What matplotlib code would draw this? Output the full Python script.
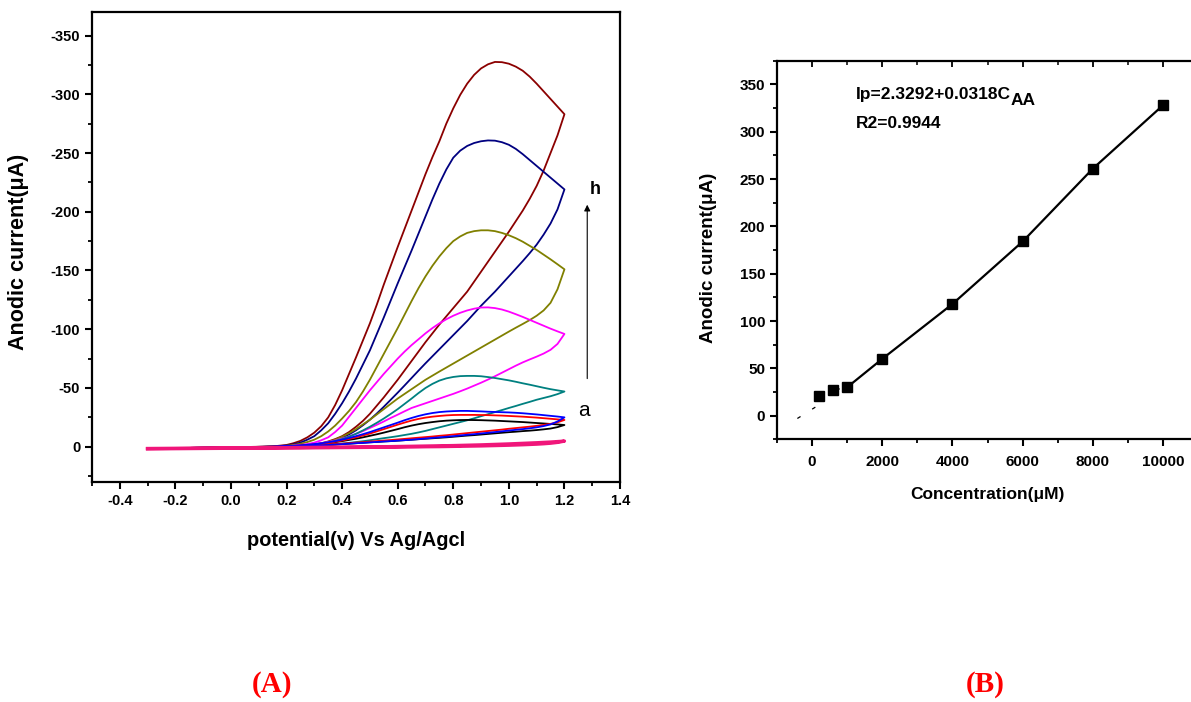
import matplotlib
matplotlib.use("Agg")
import matplotlib.pyplot as plt
from matplotlib.ticker import MultipleLocator

plt.rcParams['font.family'] = ['Liberation Sans', 'DejaVu Sans']
plt.rcParams['font.weight'] = 'bold'

# --- (A) cyclic voltammograms: shared potential grid (V) ---
pot_fwd = [-0.3, 0.0, 0.1, 0.15,
           0.2, 0.225, 0.25, 0.275, 0.3, 0.325, 0.35, 0.375, 0.4, 0.425,
           0.45, 0.475, 0.5, 0.525, 0.55, 0.575, 0.6, 0.625, 0.65, 0.675,
           0.7, 0.725, 0.75, 0.775, 0.8, 0.825, 0.85, 0.875, 0.9, 0.925,
           0.95, 0.975, 1.0, 1.025, 1.05, 1.075, 1.1, 1.125, 1.15, 1.175, 1.2]
pot_rev = pot_fwd[::-1]

# currents (uA); forward sweep then reverse sweep
h_fwd = [1.5, 0.5, 0.0, -0.3,
         -1.5, -3.0, -5, -8, -12, -17.5, -25, -35.5, -48, -62,
         -76, -90.5, -105, -121, -138, -154, -170, -185.5, -201, -216.5,
         -232, -246.5, -260, -275, -288, -299.5, -309, -316.5, -322, -325.5,
         -327.5, -327.3, -326, -323.5, -320, -315, -309, -302.5, -296, -289.5, -283]
h_rev = [-283, -265, -250, -235, -222, -211, -201, -192, -183, -174.5,
         -166, -157.5, -149, -140.5, -132, -125, -118, -111, -104, -96.5,
         -89, -81, -73, -65, -57, -49.5, -42, -35, -28, -22,
         -17, -12.5, -9, -6.5, -4.5, -3, -2, -1.5, -1, -0.7, -0.5,
         0.0, 0.3, 0.8, 1.5]
g_fwd = [1.5, 0.5, 0.1, -0.2,
         -1, -2, -3.5, -6, -9, -14, -20, -28, -37, -47,
         -58, -70, -82, -96, -110, -124.5, -139, -153, -167, -181.5,
         -196, -210.5, -224, -236, -246, -252, -256, -258.5, -260, -260.7,
         -260.5, -259.2, -257, -253.5, -249, -244, -239, -234, -229, -224, -219]
g_rev = [-219, -202, -190, -180.5, -172, -164.8, -158, -151.5, -145, -138.5,
         -132, -126, -120, -113.5, -107, -101, -95, -89, -83, -77,
         -71, -64.8, -58.5, -52.2, -46, -40, -34, -28.3, -23, -18.3,
         -14, -10.5, -7.5, -5.3, -3.5, -2.3, -1.5, -1.1, -0.8, -0.6, -0.4,
         0.0, 0.3, 0.8, 1.5]
f_fwd = [1.5, 0.5, 0.1, -0.2,
         -0.8, -1.5, -2.5, -4, -6, -9, -13, -18, -24, -30.5,
         -38, -47, -57, -68, -79, -90, -101, -112.5, -124, -135,
         -145, -154, -162, -169, -175, -179, -182, -183.5, -184.2, -184.2,
         -183.5, -182, -180, -177.5, -174.5, -171, -167.5, -163.5, -159.5, -155.3, -151]
f_rev = [-151, -134, -122.5, -116, -111.5, -107.8, -104.5, -101.3, -98, -94.6,
         -91.2, -87.8, -84.4, -81, -77.6, -74.2, -70.8, -67.4, -64, -60.5,
         -57, -53, -49, -45, -41, -36.5, -32, -27.5, -23, -19,
         -15, -11.5, -8.5, -6, -4, -2.8, -2, -1.4, -1, -0.7, -0.5,
         0.0, 0.3, 0.8, 1.5]
e_fwd = [1.5, 0.5, 0.1, -0.1,
         -0.5, -0.9, -1.5, -2.3, -3.5, -5.5, -8, -12.5, -18, -25.5,
         -33, -40.5, -48, -55, -62, -68.5, -75, -81, -86.5, -91.5,
         -96.5, -101, -105, -108.5, -111.5, -114, -116, -117.5, -118.5, -118.6,
         -118, -116.8, -115, -112.8, -110.5, -108, -105.5, -103, -100.5, -98.2, -96]
e_rev = [-96, -87.5, -82.5, -79.3, -76.7, -74.3, -71.8, -69, -66, -63,
         -60, -57.2, -54.5, -52, -49.5, -47.2, -45, -43, -41, -39,
         -37, -35, -33, -30.2, -27.3, -24.5, -21.5, -18.7, -16, -13.3,
         -11, -8.8, -7, -5.3, -4, -2.9, -2, -1.4, -1, -0.7, -0.5,
         0.0, 0.3, 0.8, 1.5]
d_fwd = [1.5, 0.5, 0.2, 0.0,
         -0.3, -0.5, -0.8, -1.1, -1.5, -2.4, -3.5, -4.9, -6.5, -8.6,
         -11, -13.9, -17, -20.4, -24, -27.9, -32, -36.5, -41, -45.7,
         -50, -53.5, -56.3, -58.2, -59.4, -60.1, -60.3, -60.3, -60, -59.3,
         -58.5, -57.5, -56.5, -55.3, -54, -52.8, -51.5, -50.2, -49, -48, -47]
d_rev = [-47, -44.8, -43, -41.5, -40, -38.2, -36.5, -34.7, -33, -31.2,
         -29.5, -27.7, -26, -24.2, -22.5, -21, -19.5, -18, -16.5, -15,
         -13.5, -12.2, -11, -10, -9, -8.1, -7.3, -6.4, -5.5, -4.7,
         -4, -3.3, -2.7, -2.1, -1.5, -1.1, -0.8, -0.5, -0.3, -0.1, 0,
         0.2, 0.4, 0.8, 1.5]
c_fwd = [1.5, 0.5, 0.2, 0.0,
         -0.5, -0.8, -1.2, -1.7, -2.3, -3, -3.8, -4.8, -6, -7.4,
         -9, -10.7, -12.5, -14.5, -16.5, -18.5, -20.5, -22.6, -24.5, -26.2,
         -27.6, -28.7, -29.5, -30, -30.3, -30.5, -30.5, -30.3, -30.1, -29.8,
         -29.6, -29.4, -29.2, -28.9, -28.5, -28, -27.5, -26.9, -26.3, -25.7, -25]
c_rev = [-25, -21.5, -19, -17.6, -16.5, -15.7, -15, -14.4, -13.8, -13.1,
         -12.5, -11.9, -11.3, -10.7, -10.2, -9.6, -9, -8.5, -8, -7.5,
         -7, -6.5, -6, -5.6, -5.2, -4.8, -4.5, -4.1, -3.7, -3.3,
         -3, -2.6, -2.2, -1.8, -1.5, -1.2, -1, -0.7, -0.5, -0.3, -0.2,
         0.1, 0.4, 0.8, 1.5]
b_fwd = [1.5, 0.5, 0.2, 0.0,
         -0.4, -0.7, -1, -1.5, -2, -2.6, -3.3, -4.2, -5.3, -6.6,
         -8, -9.6, -11.2, -13.1, -15, -16.9, -18.8, -20.6, -22.3, -23.7,
         -24.8, -25.6, -26.2, -26.7, -27, -27.1, -27.1, -27.1, -27, -26.9,
         -26.7, -26.5, -26.2, -25.9, -25.6, -25.2, -24.8, -24.3, -23.8, -23.3, -22.8]
b_rev = [-22.8, -20.8, -19.5, -18.6, -17.8, -17.1, -16.5, -15.9, -15.3, -14.6,
         -14, -13.4, -12.8, -12.2, -11.6, -11, -10.4, -9.8, -9.3, -8.7,
         -8.2, -7.7, -7.2, -6.7, -6.2, -5.7, -5.3, -4.8, -4.4, -3.9,
         -3.5, -3, -2.6, -2.2, -1.8, -1.4, -1.1, -0.8, -0.6, -0.4, -0.2,
         0.1, 0.4, 0.8, 1.5]
a_fwd = [1.5, 0.5, 0.2, 0.0,
         -0.4, -0.6, -0.9, -1.3, -1.8, -2.4, -3, -3.9, -4.8, -5.8,
         -6.8, -8, -9.3, -10.6, -12, -13.5, -15, -16.6, -18, -19.2,
         -20.2, -21, -21.7, -22.2, -22.5, -22.7, -22.8, -22.7, -22.6, -22.4,
         -22.2, -21.9, -21.6, -21.3, -21, -20.6, -20.2, -19.8, -19.4, -19, -18.5]
a_rev = [-18.5, -16.7, -15.5, -14.8, -14.2, -13.7, -13.3, -12.8, -12.4, -11.9,
         -11.4, -10.9, -10.4, -9.9, -9.5, -9, -8.5, -8, -7.6, -7.2,
         -6.8, -6.4, -6, -5.6, -5.2, -4.8, -4.5, -4.1, -3.8, -3.4,
         -3, -2.6, -2.3, -1.9, -1.6, -1.3, -1, -0.7, -0.5, -0.3, -0.2,
         0.1, 0.4, 0.8, 1.5]
blank_fwd = [1.5, 1.0, 0.9, 0.8,
             0.7, 0.65, 0.6, 0.55, 0.5, 0.45, 0.4, 0.35, 0.3, 0.25,
             0.2, 0.15, 0.1, 0.05, 0, -0.1, -0.2, -0.3, -0.4, -0.5,
             -0.6, -0.7, -0.8, -0.9, -1.0, -1.15, -1.3, -1.45, -1.6, -1.8,
             -2.0, -2.2, -2.4, -2.65, -2.9, -3.15, -3.4, -3.7, -4.0, -4.4, -4.8]
blank_rev = [-4.8, -3.7, -3.0, -2.55, -2.2, -1.95, -1.7, -1.5, -1.3, -1.15,
             -1.0, -0.85, -0.7, -0.6, -0.5, -0.4, -0.3, -0.2, -0.1, -0.05,
             0, 0.1, 0.2, 0.25, 0.3, 0.35, 0.4, 0.45, 0.5, 0.55,
             0.6, 0.65, 0.7, 0.75, 0.8, 0.85, 0.9, 0.95, 1.0, 1.0, 1.0,
             1.1, 1.15, 1.3, 1.8]

curves = [
    (h_fwd, h_rev, "#8B0000"),
    (g_fwd, g_rev, "#000080"),
    (f_fwd, f_rev, "#808000"),
    (e_fwd, e_rev, "#FF00FF"),
    (d_fwd, d_rev, "#008080"),
    (a_fwd, a_rev, "#000000"),
    (b_fwd, b_rev, "#FF0000"),
    (c_fwd, c_rev, "#0000FF"),
]

# --- (B) calibration ---
conc = [200, 600, 1000, 2000, 4000, 6000, 8000, 10000]
peak_current = [21, 27, 30, 60, 118, 184, 261, 328]
ext_conc = [-420, 200]
ext_current = [-3, 11.5]

fig = plt.figure(figsize=(11.91, 7.02), dpi=100)
axA = fig.add_axes([0.0772, 0.3134, 0.4434, 0.6695])
axB = fig.add_axes([0.6524, 0.3742, 0.3536, 0.5393])


def style_axes(ax, size):
    for sp in ax.spines.values():
        sp.set_linewidth(1.6)
    ax.tick_params(which='major', direction='out', length=5, width=1.5,
                   labelsize=size, top=False, right=False)
    ax.tick_params(which='minor', direction='out', length=3, width=1.3,
                   top=False, right=False)
    for lab in ax.get_xticklabels() + ax.get_yticklabels():
        lab.set_fontweight('bold')


# panel A
for fwd, rev, col in curves:
    axA.plot(pot_fwd + pot_rev, fwd + rev, color=col, lw=1.3)
axA.plot(pot_fwd + pot_rev, blank_fwd + blank_rev, color="#F0167A", lw=2.4)

axA.set_xlim(-0.5, 1.4)
axA.set_ylim(30, -370)
axA.xaxis.set_minor_locator(MultipleLocator(0.1))
axA.yaxis.set_minor_locator(MultipleLocator(25))
axA.set_xticks([-0.4, -0.2, 0.0, 0.2, 0.4, 0.6, 0.8, 1.0, 1.2, 1.4])
axA.set_xticklabels(["-0.4", "-0.2", "0.0", "0.2", "0.4", "0.6", "0.8", "1.0", "1.2", "1.4"])
axA.set_yticks([-350, -300, -250, -200, -150, -100, -50, 0])
axA.set_yticklabels(["-350", "-300", "-250", "-200", "-150", "-100", "-50", "0"])
style_axes(axA, 10.5)
axA.set_xlabel("potential(v) Vs Ag/Agcl", fontsize=14.4, fontweight='bold')
axA.set_ylabel("Anodic current(\u03bcA)", fontsize=15.5, fontweight='bold')
axA.xaxis.set_label_coords(0.5, -0.105)
axA.yaxis.set_label_coords(-0.12, 0.49)

axA.annotate("", xy=(1.282, -206), xytext=(1.282, -58),
             arrowprops=dict(arrowstyle="-|>", color="black", lw=0.8,
                             mutation_scale=9, shrinkA=0, shrinkB=0))
axA.text(1.31, -219, "h", fontsize=13, fontweight='bold', ha='center', va='center')
axA.text(1.27, -31, "a", fontsize=15, fontweight='normal', ha='center', va='center')

# panel B
axB.plot(conc[2:], peak_current[2:], color='black', lw=1.6)
axB.plot(conc[:3], peak_current[:3], color='black', lw=1.2, ls=(0, (1, 5)))
axB.plot(ext_conc, ext_current, color='black', lw=0.9, ls=(0, (3, 11)))
axB.plot(conc, peak_current, ls='none', marker='s', ms=6.5, color='black')

axB.set_xlim(-1000, 11000)
axB.set_ylim(-25, 375)
axB.xaxis.set_major_locator(MultipleLocator(2000))
axB.xaxis.set_minor_locator(MultipleLocator(1000))
axB.yaxis.set_major_locator(MultipleLocator(50))
axB.yaxis.set_minor_locator(MultipleLocator(25))
style_axes(axB, 11)
axB.tick_params(axis='x', which='major', pad=6)
for lab in axB.get_xticklabels() + axB.get_yticklabels():
    lab.set_fontweight('bold')

# inward ticks along the top edge
twin = axB.twiny()
twin.set_xlim(axB.get_xlim())
twin.xaxis.set_major_locator(MultipleLocator(2000))
twin.xaxis.set_minor_locator(MultipleLocator(1000))
twin.tick_params(axis='x', which='major', direction='in', length=4, width=1.3,
                 labeltop=False)
twin.tick_params(axis='x', which='minor', direction='in', length=3, width=1.1)
for sp in twin.spines.values():
    sp.set_visible(False)

axB.set_xlabel("Concentration(\u03bcM)", fontsize=12.5, fontweight='bold')
axB.set_ylabel("Anodic current(\u03bcA)", fontsize=13.5, fontweight='bold')
axB.xaxis.set_label_coords(0.5, -0.125)
axB.yaxis.set_label_coords(-0.143, 0.48)

eq = axB.text(1250, 339, "Ip=2.3292+0.0318C", fontsize=12.5, fontweight='bold',
              ha='left', va='center')
axB.annotate("AA", xy=(1.0, 0.0), xycoords=eq, xytext=(0, -4),
             textcoords='offset points', fontsize=12.5, fontweight='bold',
             ha='left', va='bottom')
axB.text(1250, 309, "R2=0.9944", fontsize=12.5, fontweight='bold', ha='left', va='center')

fig.text(272 / 1191, 1 - 685 / 702, "(A)", color='red', fontsize=21, fontweight='bold',
         family=['Liberation Serif', 'DejaVu Serif'], ha='center', va='center')
fig.text(985 / 1191, 1 - 685 / 702, "(B)", color='red', fontsize=21, fontweight='bold',
         family=['Liberation Serif', 'DejaVu Serif'], ha='center', va='center')

fig.savefig("out.png", dpi=100)
